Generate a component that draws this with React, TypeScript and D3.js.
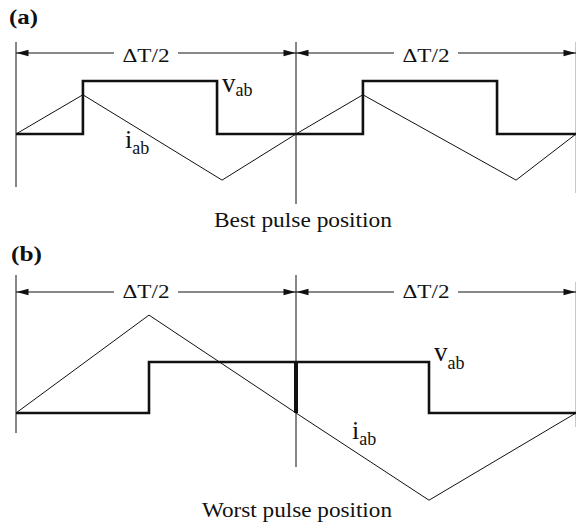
import React from "react";
import * as d3 from "d3";

// time in units of ΔT/2 (0..2), values normalized (v: 0/1)
const vA_t = [0, 0.239, 0.239, 0.718, 0.718, 1, 1.239, 1.239, 1.718, 1.718, 2];
const vA_v = [0, 0, 1, 1, 0, 0, 0, 1, 1, 0, 0];
const iA_t = [0, 0.239, 0.736, 1, 1.239, 1.786, 2];
const iA_v = [0, 0.74, -0.87, 0, 0.74, -0.87, 0];

const vB_t = [0, 0.475, 0.475, 1.475, 1.475, 2];
const vB_v = [0, 0, 1, 1, 0, 0];
const iB_t = [0, 0.475, 1, 1.475, 2];
const iB_v = [0, 1.92, 0, -1.71, 0];
const notchB = [1];

const markerTimes = [0, 1, 2];
const spanLabels = ["ΔT/2", "ΔT/2"];
const panelTitles = ["(a)", "(b)"];
const captions = ["Best pulse position", "Worst pulse position"];

const FONT = "Liberation Serif, Times New Roman, Times, Nimbus Roman, serif";

type PanelProps = {
  yBase: number;
  unit: number;
  vt: number[];
  vv: number[];
  it: number[];
  iv: number[];
  notch: number[];
  arrowY: number;
  markerTop: number;
  markerBottoms: number[];
  rightTop: number;
  title: string;
  titleX: number;
  titleY: number;
  titleW: number;
  caption: string;
  captionX: number;
  captionW: number;
  captionY: number;
  spanTextY: number;
  vLabel: [number, number, number];
  iLabel: [number, number, number];
};

const x = d3.scaleLinear().domain([0, 2]).range([16, 576]);

function Arrow({ tipX, y, dir }: { tipX: number; y: number; dir: number }) {
  const len = 12;
  const hw = 3.2;
  const p = d3.path();
  p.moveTo(tipX, y);
  p.lineTo(tipX - dir * len, y - hw);
  p.lineTo(tipX - dir * len, y + hw);
  p.closePath();
  return <path d={p.toString()} fill="#111" />;
}

function Panel(props: PanelProps) {
  const y = d3
    .scaleLinear()
    .domain([-1, 1])
    .range([props.yBase + props.unit, props.yBase - props.unit]);
  const lineGen = d3
    .line<[number, number]>()
    .x((d) => x(d[0]))
    .y((d) => y(d[1]));
  const vPts: [number, number][] = props.vt.map((t, k) => [t, props.vv[k]]);
  const iPts: [number, number][] = props.it.map((t, k) => [t, props.iv[k]]);
  return (
    <g>
      <text
        x={props.titleX}
        y={props.titleY}
        fontFamily={FONT}
        fontWeight="bold"
        fontSize={20}
        textLength={props.titleW}
        lengthAdjust="spacingAndGlyphs"
        fill="#111"
      >
        {props.title}
      </text>
      {markerTimes.map((t, k) => (
        <line
          key={k}
          x1={k === 2 ? 575.5 : x(t)}
          x2={k === 2 ? 575.5 : x(t)}
          y1={k === 2 ? props.rightTop : props.markerTop}
          y2={props.markerBottoms[k]}
          stroke={k === 2 ? "#c8c8c8" : "#111"}
          strokeWidth={1}
        />
      ))}
      {spanLabels.map((lbl, k) => {
        const x0 = x(markerTimes[k]);
        const x1 = x(markerTimes[k + 1]);
        const cx = x0 + 130;
        return (
          <g key={k}>
            <line x1={x0} x2={cx - 32} y1={props.arrowY} y2={props.arrowY} stroke="#111" strokeWidth={1} />
            <line x1={cx + 32} x2={x1} y1={props.arrowY} y2={props.arrowY} stroke="#111" strokeWidth={1} />
            <Arrow tipX={x0 + 0.5} y={props.arrowY} dir={-1} />
            <Arrow tipX={x1 - 0.5} y={props.arrowY} dir={1} />
            <text
              x={cx - 23.5}
              y={props.spanTextY}
              fontFamily={FONT}
              fontSize={19}
              textLength={47}
              lengthAdjust="spacingAndGlyphs"
              fill="#111"
            >
              {lbl}
            </text>
          </g>
        );
      })}
      <path d={lineGen(iPts) || ""} fill="none" stroke="#111" strokeWidth={1} />
      <path d={lineGen(vPts) || ""} fill="none" stroke="#111" strokeWidth={2.6} strokeLinejoin="miter" />
      {props.notch.map((t, k) => (
        <line key={k} x1={x(t)} x2={x(t)} y1={y(1)} y2={y(0)} stroke="#111" strokeWidth={4} />
      ))}
      <text x={props.vLabel[0]} y={props.vLabel[1]} fontFamily={FONT} fill="#111" fontSize={27}>
        v
        <tspan dy={props.vLabel[2]} fontSize={18}>ab</tspan>
      </text>
      <text x={props.iLabel[0]} y={props.iLabel[1]} fontFamily={FONT} fill="#111" fontSize={26}>
        i
        <tspan dy={props.iLabel[2]} fontSize={18}>ab</tspan>
      </text>
      <text
        x={props.captionX}
        y={props.captionY}
        fontFamily={FONT}
        fontSize={20}
        textLength={props.captionW}
        lengthAdjust="spacingAndGlyphs"
        fill="#111"
      >
        {props.caption}
      </text>
    </g>
  );
}

export default function App() {
  return (
    <svg
      width={576}
      height={527}
      style={{ position: "absolute", left: 0, top: 0, background: "#fff" }}
    >
      <rect width={576} height={527} fill="#fff" />
      <Panel
        yBase={134}
        unit={53}
        vt={vA_t}
        vv={vA_v}
        it={iA_t}
        iv={iA_v}
        notch={[]}
        arrowY={53}
        markerTop={42}
        markerBottoms={[187, 204, 193]}
        rightTop={42}
        title={panelTitles[0]}
        titleX={9}
        titleY={23.5}
        titleW={29}
        caption={captions[0]}
        captionX={214}
        captionW={178}
        captionY={227}
        spanTextY={62}
        vLabel={[222, 92, 4]}
        iLabel={[125, 148, 6]}
      />
      <Panel
        yBase={413}
        unit={51}
        vt={vB_t}
        vv={vB_v}
        it={iB_t}
        iv={iB_v}
        notch={notchB}
        arrowY={292}
        markerTop={275}
        markerBottoms={[433, 467, 427]}
        rightTop={282}
        title={panelTitles[1]}
        titleX={11}
        titleY={261}
        titleW={31}
        caption={captions[1]}
        captionX={202}
        captionW={190}
        captionY={517}
        spanTextY={298}
        vLabel={[434, 361, 8]}
        iLabel={[352, 439, 6]}
      />
    </svg>
  );
}
